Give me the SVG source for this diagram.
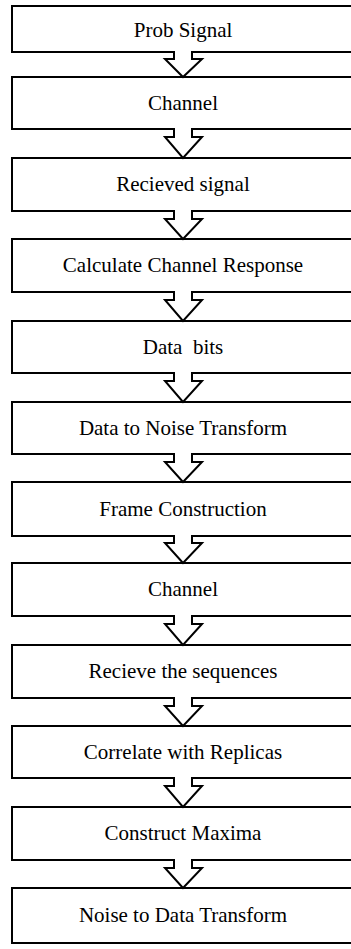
<svg xmlns="http://www.w3.org/2000/svg" width="351" height="949" viewBox="0 0 351 949">
  <style>
    .box { fill: #ffffff; stroke: #000000; stroke-width: 2; }
    .lbl { font-family: "Liberation Serif", Tinos, "Times New Roman", serif; font-size: 21px; fill: #000000; text-anchor: middle; }
    .flow { fill: #ffffff; stroke: #000000; stroke-width: 2; stroke-linejoin: miter; }
  </style>
  <rect width="351" height="949" fill="#ffffff"/>

  <!-- process steps; right edges run past the page -->
  <g id="n1"><rect class="box" x="12" y="6" width="350" height="46"/><text class="lbl" x="183" y="37">Prob Signal</text></g>
  <g id="n2"><rect class="box" x="12" y="77" width="350" height="52"/><text class="lbl" x="183" y="110">Channel</text></g>
  <g id="n3"><rect class="box" x="12" y="158" width="350" height="53"/><text class="lbl" x="183" y="191">Recieved signal</text></g>
  <g id="n4"><rect class="box" x="12" y="239" width="350" height="53"/><text class="lbl" x="183" y="272">Calculate Channel Response</text></g>
  <g id="n5"><rect class="box" x="12" y="321" width="350" height="52"/><text class="lbl" x="183" y="354" xml:space="preserve">Data  bits</text></g>
  <g id="n6"><rect class="box" x="12" y="402" width="350" height="52"/><text class="lbl" x="183" y="435">Data to Noise Transform</text></g>
  <g id="n7"><rect class="box" x="12" y="482" width="350" height="54"/><text class="lbl" x="183" y="516">Frame Construction</text></g>
  <g id="n8"><rect class="box" x="12" y="563" width="350" height="53"/><text class="lbl" x="183" y="596">Channel</text></g>
  <g id="n9"><rect class="box" x="12" y="645" width="350" height="53"/><text class="lbl" x="183" y="678">Recieve the sequences</text></g>
  <g id="n10"><rect class="box" x="12" y="726" width="350" height="52"/><text class="lbl" x="183" y="759">Correlate with Replicas</text></g>
  <g id="n11"><rect class="box" x="12" y="807" width="350" height="53"/><text class="lbl" x="183" y="840">Construct Maxima</text></g>
  <g id="n12"><rect class="box" x="12" y="888" width="350" height="55"/><text class="lbl" x="183" y="922">Noise to Data Transform</text></g>

  <!-- block arrows between consecutive steps (open at the top so they merge into the box above) -->
  <g id="connectors">
    <path class="flow" d="M192,51 V59 H202 L183,77 L165,59 H174 V51"/>
    <path class="flow" d="M192,128 V137 H202 L183,158 L165,137 H174 V128"/>
    <path class="flow" d="M192,210 V219 H202 L183,239 L165,219 H174 V210"/>
    <path class="flow" d="M192,291 V300 H202 L183,321 L165,300 H174 V291"/>
    <path class="flow" d="M192,372 V381 H202 L183,402 L165,381 H174 V372"/>
    <path class="flow" d="M192,453 V462 H202 L183,482 L165,462 H174 V453"/>
    <path class="flow" d="M192,535 V543 H202 L183,563 L165,543 H174 V535"/>
    <path class="flow" d="M192,615 V624 H202 L183,645 L165,624 H174 V615"/>
    <path class="flow" d="M192,697 V706 H202 L183,726 L165,706 H174 V697"/>
    <path class="flow" d="M192,777 V786 H202 L183,807 L165,786 H174 V777"/>
    <path class="flow" d="M192,859 V868 H202 L183,888 L165,868 H174 V859"/>
  </g>
</svg>
